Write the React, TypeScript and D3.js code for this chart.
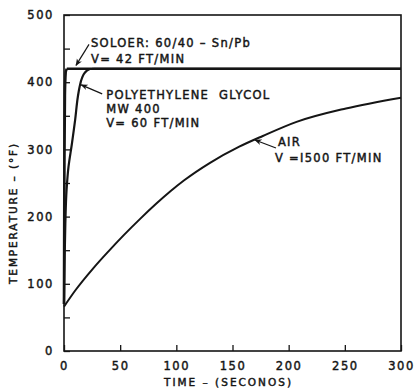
import React, { useEffect, useRef } from "react"
import * as d3 from "d3"

const xTicks = [0, 50, 100, 150, 200, 250, 300]
const yTicks = [0, 50, 100, 150, 200, 250, 300, 350, 400, 450, 500]

const solderTime = [0, 0.3, 0.8, 1.5, 2.5, 300]
const solderTemp = [70, 250, 380, 415, 420, 420]

const glycolTime = [0, 0.5, 1.2, 2.3, 4, 7, 10, 12.3, 14, 16, 18.5, 22, 26, 300]
const glycolTemp = [70, 130, 190, 240, 274, 308, 345, 378, 394, 406, 414, 419, 420, 420]

const airTime = [0, 10, 26, 40, 53, 68, 82, 95, 107, 130, 156, 177, 207, 251, 300]
const airTemp = [66, 90, 123, 149, 172, 197, 219, 238, 254, 280, 304, 320, 341, 361, 377]

// annotation tips in data units, text lines
const notes = [
  { t: 10.7, v: 425, lines: ["SOLOER: 60/40 – Sn/Pb", "V= 42 FT/MIN"] },
  { t: 15.3, v: 396, lines: ["POLYETHYLENE  GLYCOL", "MW 400", "V= 60 FT/MIN"] },
  { t: 170, v: 314, lines: ["AIR", "V =I500 FT/MIN"] },
]

const W = 416
const H = 390
const margin = { top: 15, right: 15, bottom: 39, left: 64 }
const font = "'DejaVu Sans', sans-serif"
const ink = "#151515"

export default function App() {
  const ref = useRef<SVGSVGElement>(null)

  useEffect(() => {
    const svg = d3.select(ref.current)
    svg.selectAll("*").remove()

    const x = d3.scaleLinear().domain([0, 300]).range([margin.left, W - margin.right])
    const y = d3.scaleLinear().domain([0, 500]).range([H - margin.bottom, margin.top])

    // lettering looks heavier than a plain regular face
    const letter = (sel: any, size: number, spacing: number) =>
      sel
        .attr("font-family", font)
        .attr("font-size", size)
        .attr("letter-spacing", spacing)
        .attr("fill", ink)
        .attr("stroke", ink)
        .attr("stroke-width", 0.45)

    svg
      .append("rect")
      .attr("x", x(0))
      .attr("y", y(500))
      .attr("width", x(300) - x(0))
      .attr("height", y(0) - y(500))
      .attr("fill", "none")
      .attr("stroke", ink)
      .attr("stroke-width", 1.6)

    const yAxis = svg
      .append("g")
      .attr("transform", `translate(${x(0)},0)`)
      .call(
        d3
          .axisLeft(y)
          .tickValues(yTicks)
          .tickSize(-6)
          .tickPadding(10)
          .tickFormat(d => ((d as number) % 100 === 0 ? String(d) : ""))
      )
    yAxis.select(".domain").remove()
    yAxis.selectAll("line").attr("stroke", ink).attr("stroke-width", 1.3)
    letter(yAxis.selectAll("text"), 11.5, 1.6)

    const xAxis = svg
      .append("g")
      .attr("transform", `translate(0,${y(0)})`)
      .call(d3.axisBottom(x).tickValues(xTicks).tickSize(-6).tickPadding(11))
    xAxis.select(".domain").remove()
    xAxis.selectAll("line").attr("stroke", ink).attr("stroke-width", 1.3)
    letter(xAxis.selectAll("text"), 11.5, 1.6)

    const lineY = d3
      .line<[number, number]>()
      .x(d => x(d[0]))
      .y(d => y(d[1]))
      .curve(d3.curveMonotoneY)
    const lineX = d3
      .line<[number, number]>()
      .x(d => x(d[0]))
      .y(d => y(d[1]))
      .curve(d3.curveMonotoneX)

    const pairs = (ts: number[], vs: number[]) => ts.map((t, i) => [t, vs[i]] as [number, number])
    const draw = (pts: [number, number][], gen: d3.Line<[number, number]>, w: number) =>
      svg
        .append("path")
        .datum(pts)
        .attr("d", gen)
        .attr("fill", "none")
        .attr("stroke", ink)
        .attr("stroke-width", w)
        .attr("stroke-linejoin", "round")

    // rising parts follow the temperature, the flat part is a straight run
    const solder = pairs(solderTime, solderTemp)
    draw(solder.slice(0, -1), lineY, 2.6)
    draw(solder.slice(-2), lineX, 2.6)
    const glycol = pairs(glycolTime, glycolTemp)
    draw(glycol.slice(0, -1), lineY, 2.2)
    draw(glycol.slice(-2), lineX, 2.2)
    draw(pairs(airTime, airTemp), lineX, 2)

    svg
      .append("defs")
      .append("marker")
      .attr("id", "tip")
      .attr("viewBox", "0 0 10 10")
      .attr("refX", 9)
      .attr("refY", 5)
      .attr("markerWidth", 6)
      .attr("markerHeight", 6)
      .attr("orient", "auto")
      .append("path")
      .attr("d", "M0,1 L10,5 L0,9 L3,5 Z")
      .attr("fill", ink)

    const tails = [
      [13, -21],
      [21, 9],
      [21, 8],
    ]
    const offsets = [
      { dx: 15, dy: -18, gap: 15.6 },
      { dx: 25, dy: 14, gap: 14.2 },
      { dx: 23, dy: 6, gap: 16 },
    ]
    notes.forEach((n, i) => {
      const px = x(n.t)
      const py = y(n.v)
      svg
        .append("line")
        .attr("x1", px + tails[i][0])
        .attr("y1", py + tails[i][1])
        .attr("x2", px)
        .attr("y2", py)
        .attr("stroke", ink)
        .attr("stroke-width", 1.2)
        .attr("marker-end", "url(#tip)")
      const o = offsets[i]
      const txt = letter(svg.append("text"), 11.5, 1.3)
      n.lines.forEach((l, j) => {
        txt
          .append("tspan")
          .attr("x", px + o.dx - (i === 2 && j === 1 ? 3 : 0))
          .attr("y", py + o.dy + j * o.gap)
          .attr("xml:space", "preserve")
          .text(l)
      })
    })

    letter(
      svg
        .append("text")
        .attr("transform", `translate(17,${(y(0) + y(500)) / 2 + 30}) rotate(-90)`)
        .attr("text-anchor", "middle"),
      10.5,
      1.9
    ).text("TEMPERATURE – (°F)")

    letter(
      svg
        .append("text")
        .attr("x", (x(0) + x(300)) / 2 - 4)
        .attr("y", H - 4)
        .attr("text-anchor", "middle"),
      10.5,
      2
    ).text("TIME  –  (SECONOS)")
  }, [])

  return (
    <svg
      ref={ref}
      width={W}
      height={H}
      style={{ position: "absolute", left: 0, top: 0, background: "#fff" }}
    />
  )
}
